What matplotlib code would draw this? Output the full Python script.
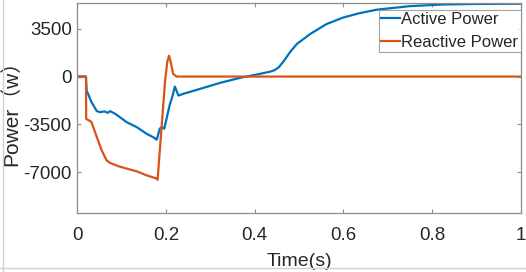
import matplotlib
matplotlib.use("Agg")
import matplotlib.pyplot as plt
from matplotlib.lines import Line2D

plt.rcParams['font.family'] = ['Liberation Sans', 'Noto Sans CJK SC', 'DejaVu Sans']
plt.rcParams['axes.unicode_minus'] = False

# active power (w) vs time (s)
t_act = [0, 0.0195, 0.021, 0.032, 0.044, 0.051, 0.062, 0.068, 0.074, 0.085, 0.096,
         0.111, 0.134, 0.156, 0.171, 0.179, 0.186, 0.190, 0.196, 0.202, 0.209,
         0.213, 0.220, 0.228, 0.239, 0.277, 0.322, 0.367, 0.412, 0.435, 0.445,
         0.455, 0.466, 0.480, 0.495, 0.525, 0.562, 0.600, 0.637, 0.675, 0.750, 0.825, 0.900, 1.0]
p_act = [0, 0, -1020, -1870, -2530, -2600, -2550, -2650, -2530, -2720, -2970,
         -3330, -3700, -4180, -4430, -4620, -3810, -3700, -3810, -2970, -1990,
         -1630, -730, -1390, -1260, -900, -460, -95, 200, 360, 470,
         700, 1150, 1800, 2380, 3110, 3840, 4320, 4640, 4890, 5150, 5270, 5310, 5330]

# reactive power (w)
t_rea = [0, 0.0195, 0.020, 0.032, 0.044, 0.055, 0.066, 0.074, 0.093, 0.111,
         0.134, 0.156, 0.179, 0.181, 0.198, 0.203, 0.207, 0.211, 0.216, 0.224, 1.0]
p_rea = [0, 0, -3085, -3330, -4430, -5400, -6125, -6320, -6560, -6730,
         -6930, -7220, -7460, -7550, -290, 1100, 1530, 1000, 200, 0, 0]

yticks = [-7000, -3500, 0, 3500]
xticks = [0, 0.2, 0.4, 0.6, 0.8, 1]
xtick_labels = ["0", "0.2", "0.4", "0.6", "0.8", "1"]

blue = "#0072BD"
orange = "#D95319"
axcol = "#8c8c8c"
txtcol = "#262626"

fig = plt.figure(figsize=(5.26, 2.72), dpi=100)
ax = fig.add_axes([0.147, 0.2158, 0.843, 0.7742])

ax.plot(t_act, p_act, color=blue, lw=1.6, label="Active Power")
ax.plot(t_rea, p_rea, color=orange, lw=1.6, label="Reactive Power")

ax.set_xlim(0, 1)
ax.set_ylim(-10000, 5400)
ax.set_xticks(xticks)
ax.set_xticklabels(xtick_labels)
ax.set_yticks(yticks)

ax.tick_params(direction="in", length=3, width=0.8, color=axcol,
               labelcolor=txtcol, labelsize=13.5, top=True, right=True)
ax.tick_params(axis="x", pad=10)
ax.tick_params(axis="y", pad=4)
for s in ax.spines.values():
    s.set_color(axcol)
    s.set_linewidth(0.9)

ax.set_xlabel("Time(s)", fontsize=14, color=txtcol, labelpad=6)
ax.set_ylabel("Power（w）", fontsize=15, color=txtcol)
ax.yaxis.set_label_coords(-0.126, 0.5)

leg = ax.legend(loc="upper right", bbox_to_anchor=(1.0, 0.967), borderaxespad=0,
                fontsize=12, frameon=True, fancybox=False, handlelength=1.1,
                handletextpad=0.1, borderpad=0.15, labelspacing=0.45)
leg.get_frame().set_edgecolor(axcol)
leg.get_frame().set_linewidth(0.8)
for txt in leg.get_texts():
    txt.set_color(txtcol)

# light frame lines on the figure edge
fig.add_artist(Line2D([2.5 / 526, 2.5 / 526], [0, 1], color="#d0d0d0", lw=1))
fig.add_artist(Line2D([0, 1], [4 / 272, 4 / 272], color="#d0d0d0", lw=1))

fig.savefig("out.png", dpi=100)
